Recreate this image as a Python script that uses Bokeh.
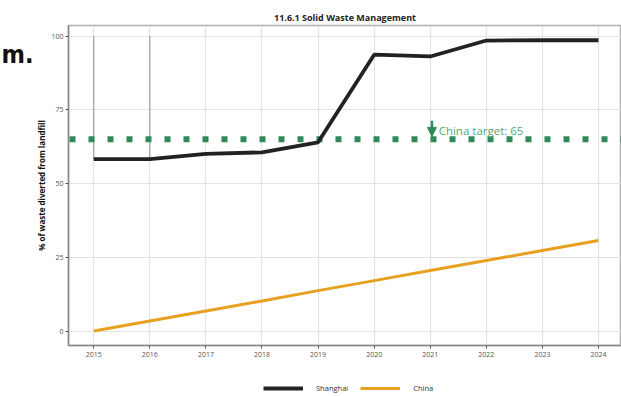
from bokeh.plotting import figure
from bokeh.layouts import column, row
from bokeh.models import Range1d, Legend, LegendItem, Label, Arrow, NormalHead, FixedTicker, ColumnDataSource
from bokeh.embed import file_html
from bokeh.resources import INLINE

years = [2015, 2016, 2017, 2018, 2019, 2020, 2021, 2022, 2023, 2024]
shanghai = [58.3, 58.3, 60.1, 60.6, 64.0, 93.7, 93.1, 98.5, 98.6, 98.6]
china = [0.0, 3.4, 6.8, 10.2, 13.7, 17.1, 20.5, 23.9, 27.3, 30.7]
target = 65
target_label = "China target: 65"
target_year = 2021
guide_years = [2015, 2016]
y_ticks = [0, 25, 50, 75, 100]
series_names = ["Shanghai", "China"]

FONT = "Open Sans"
BLACK = "#222222"
ORANGE = "#e8a020"
GREEN = "#2e8b57"

# ---------- left strip with the "m." mark ----------
fm = figure(width=33, height=376, output_backend="svg", toolbar_location=None,
            x_range=Range1d(0, 33), y_range=Range1d(376, 0),
            x_axis_location=None, y_axis_location=None,
            min_border=0, outline_line_color=None)
fm.grid.visible = False
fm.add_layout(Label(x=1, y=34, text="m.", text_font="Liberation Sans Narrow, DejaVu Sans Condensed",
                    text_baseline="alphabetic",
                    text_font_size="25px", text_font_style="bold", text_color="#111111"))

# ---------- main chart ----------
p = figure(width=588, height=376, output_backend="svg", toolbar_location=None,
           x_range=Range1d(2014.55, 2024.41), y_range=Range1d(-4.9, 103.6),
           min_border_left=34, min_border_right=0, min_border_top=25, min_border_bottom=31)

p.title.text = "11.6.1 Solid Waste Management"
p.title.align = "center"
p.title.text_font = FONT
p.title.text_font_size = "9px"
p.title.text_font_style = "bold"
p.title.text_color = BLACK
p.title.offset = 0
p.title.standoff = 4

p.outline_line_color = "#b0b0b0"
p.outline_line_width = 1.5

for ax in (p.xaxis, p.yaxis):
    ax.axis_line_color = "#888888"
    ax.axis_line_width = 1.5
    ax.major_tick_line_color = "#555555"
    ax.major_tick_out = 3
    ax.major_tick_in = 0
    ax.minor_tick_line_color = None
    ax.major_label_text_font = FONT
    ax.major_label_text_font_size = "7px"
    ax.major_label_text_color = "#555555"

p.xaxis.major_label_standoff = 3
p.yaxis.major_label_standoff = 2
p.xaxis.ticker = FixedTicker(ticks=years)
p.yaxis.ticker = FixedTicker(ticks=y_ticks)
p.yaxis.axis_label = "% of waste diverted from landfill"
p.yaxis.axis_label_text_font = FONT
p.yaxis.axis_label_text_font_size = "8px"
p.yaxis.axis_label_text_font_style = "bold"
p.yaxis.axis_label_text_color = "#111111"
p.yaxis.axis_label_standoff = 1

p.xgrid.grid_line_color = "#e3e3e3"
p.ygrid.grid_line_color = "#e3e3e3"
p.xgrid.grid_line_width = 1.2
p.ygrid.grid_line_width = 1.2

# grey guide segments
p.segment(x0=guide_years, y0=[100, 100], x1=guide_years, y1=[shanghai[0], shanghai[1]],
          line_color="#a0a0a0", line_width=1.2)

# target dotted line
p.line([2014.55, 2024.41], [target, target], line_color=GREEN, line_width=6,
       line_dash="6 13", line_dash_offset=-1)

src = ColumnDataSource(dict(x=years, s=shanghai, c=china))
p.line("x", "s", source=src, line_color=BLACK, line_width=3.8)
p.line("x", "c", source=src, line_color=ORANGE, line_width=3)

p.add_layout(Arrow(end=NormalHead(size=9, fill_color=GREEN, line_color=GREEN),
                   x_start=target_year + 0.03, y_start=71.3, x_end=target_year + 0.03, y_end=66.0,
                   line_color=GREEN, line_width=2.5))
p.add_layout(Label(x=target_year + 0.15, y=target + 0.5, text=target_label,
                   text_font=FONT, text_font_size="11.5px", text_color="#3a9a62",
                   text_alpha=0.9))

# ---------- legend strip ----------
fl = figure(width=621, height=20, output_backend="svg", toolbar_location=None,
            x_range=Range1d(0, 1), y_range=Range1d(0, 1),
            x_axis_location=None, y_axis_location=None,
            min_border=0, outline_line_color=None)
fl.grid.visible = False
l_sh = fl.line("x", "s", source=src, line_color=BLACK, line_width=3.8)
l_cn = fl.line("x", "c", source=src, line_color=ORANGE, line_width=3)
legend = Legend(items=[LegendItem(label=series_names[0], renderers=[l_sh]),
                       LegendItem(label=series_names[1], renderers=[l_cn])],
                orientation="horizontal", location=(263, 3),
                label_text_font=FONT, label_text_font_size="7.5px", label_text_color="#333333",
                glyph_width=40, glyph_height=10, spacing=12, label_standoff=13,
                border_line_color=None, background_fill_alpha=0, padding=2, margin=0)
fl.add_layout(legend)

layout = column(row(fm, p, spacing=0), fl, spacing=0)

open("out.html", "w").write(file_html(layout, INLINE))
